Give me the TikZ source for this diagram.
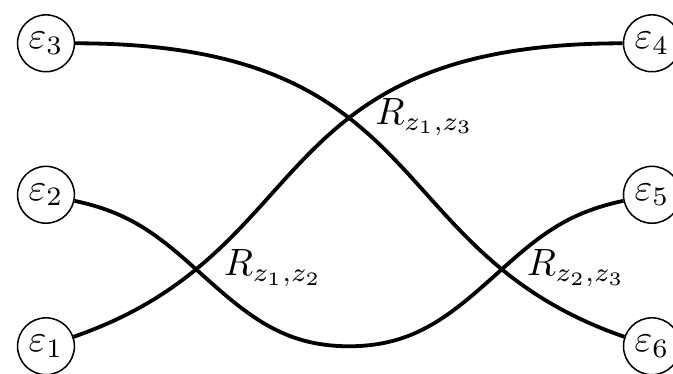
\documentclass[tikz,border=0pt]{standalone}
\begin{document}
\begin{tikzpicture}[
  state/.style={draw, circle, inner sep=1.5pt},
  strand/.style={line width=1pt},
  lbl/.style={anchor=base west}
]
\useasboundingbox (-0.425,-0.25) rectangle (5.795,3.2);
\foreach \n/\x/\y in {1/0/0,2/0/1.4,3/0/2.8,4/5.6/2.8,5/5.6/1.4,6/5.6/0}{
  \node[state] (e\n) at (\x,\y) {$\varepsilon_\n$};
}
% crossing points of the middle strand
\coordinate (r12) at (1.4,0.7);
\coordinate (r23) at (4.2,0.7);
\coordinate (low) at (2.8,0);
\draw[strand] (e3) .. controls +(0:3.63) and +(161:2.69) .. (e6);
\draw[strand] (e1) .. controls +(19:2.69) and +(180:3.63) .. (e4);
\draw[strand] (e2) to[out=-12,in=138] (r12) to[out=-42,in=180] (low) to[out=0,in=222] (r23) to[out=42,in=192] (e5);
\node[lbl] (l12) at (1.52,0.65) {$R_{z_1,z_2}$};
\node[lbl] (l13) at (2.92,2.05) {$R_{z_1,z_3}$};
\node[lbl] (l23) at (4.32,0.65) {$R_{z_2,z_3}$};
\end{tikzpicture}
\end{document}
